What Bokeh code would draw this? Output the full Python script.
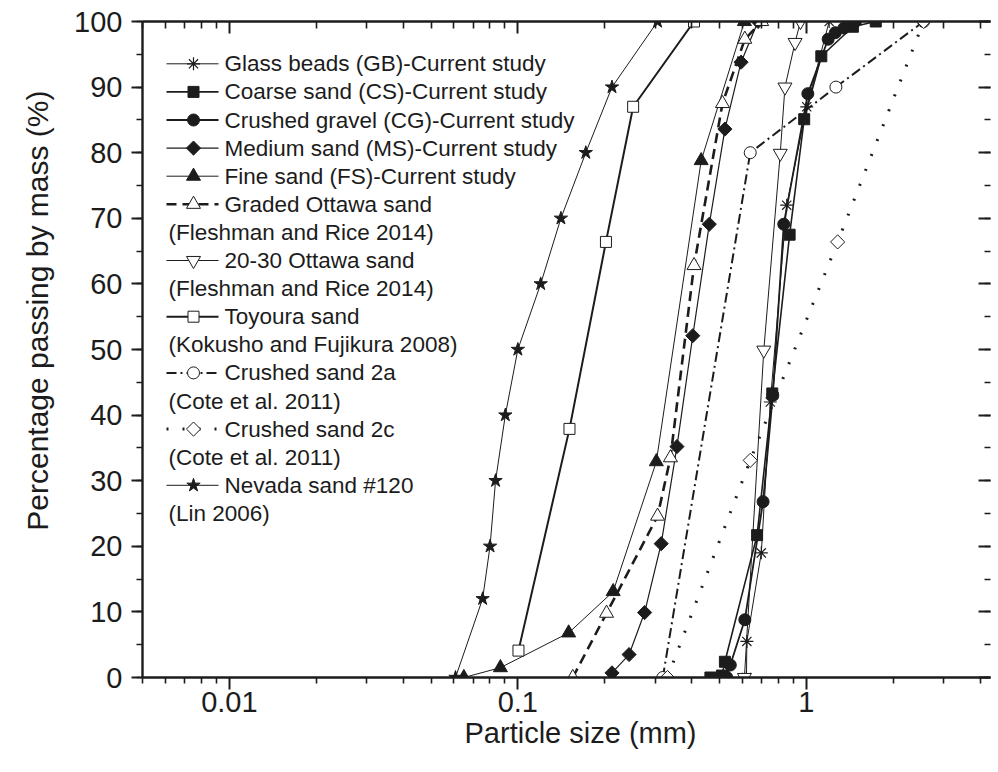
import math
from bokeh.plotting import figure
from bokeh.models import (Range1d, LinearScale, LogAxis, LinearAxis, FixedTicker,
                          SingleIntervalTicker, CustomJSTickFormatter, Title)
from bokeh.core.properties import value
from bokeh.embed import file_html
from bokeh.resources import INLINE

# ---------------- data (particle size in mm, percent passing) ----------------
gb_x = [0.62, 0.622, 0.698, 0.75, 0.855, 1.003, 1.2]
gb_y = [0, 5.5, 19, 42, 72, 87, 100]

cs_x = [0.465, 0.51, 0.522, 0.675, 0.762, 0.875, 0.983, 1.127, 1.45, 1.74]
cs_y = [0, 0.3, 2.4, 21.7, 43.3, 67.5, 85.1, 94.7, 99.2, 100]

cg_x = [0.53, 0.545, 0.612, 0.708, 0.765, 0.835, 1.012, 1.19, 1.26, 1.35, 1.48]
cg_y = [0, 1.9, 8.8, 26.8, 43.0, 69.1, 89.0, 97.3, 98.3, 99.0, 100]

ms_x = [0.212, 0.243, 0.275, 0.314, 0.356, 0.404, 0.461, 0.522, 0.594, 0.68]
ms_y = [0.7, 3.5, 9.9, 20.4, 35.2, 52.1, 69.1, 83.6, 93.8, 100]

fs_x = [0.065, 0.087, 0.15, 0.214, 0.302, 0.432, 0.61]
fs_y = [0, 1.5, 6.8, 13.1, 32.9, 78.8, 100]

go_x = [0.155, 0.203, 0.305, 0.338, 0.408, 0.512, 0.612, 0.70]
go_y = [0, 9.8, 24.6, 33.5, 62.8, 87.5, 97.3, 100]

o2030_x = [0.61, 0.712, 0.812, 0.843, 0.914, 0.954]
o2030_y = [0, 49.9, 79.9, 90.0, 96.8, 100]

toy_x = [0.1005, 0.151, 0.202, 0.251, 0.408]
toy_y = [4.1, 37.9, 66.4, 87.0, 100]

cs2a_x = [0.318, 0.639, 1.266, 2.55]
cs2a_y = [0, 80, 90, 100]

cs2c_x = [0.33, 0.639, 1.284, 2.55]
cs2c_y = [0, 33.1, 66.4, 100]

nev_x = [0.0608, 0.0755, 0.0801, 0.0837, 0.0905, 0.100, 0.120, 0.141, 0.172, 0.212, 0.305]
nev_y = [0, 12, 20, 30, 40, 50, 60, 70, 80, 90, 100]

legend_labels = [
    ["Glass beads (GB)-Current study"],
    ["Coarse sand (CS)-Current study"],
    ["Crushed gravel (CG)-Current study"],
    ["Medium sand (MS)-Current study"],
    ["Fine sand (FS)-Current study"],
    ["Graded Ottawa sand", "(Fleshman and Rice 2014)"],
    ["20-30 Ottawa sand", "(Fleshman and Rice 2014)"],
    ["Toyoura sand", "(Kokusho and Fujikura 2008)"],
    ["Crushed sand 2a", "(Cote et al. 2011)"],
    ["Crushed sand 2c", "(Cote et al. 2011)"],
    ["Nevada sand #120", "(Lin 2006)"],
]

x_major = [0.01, 0.1, 1]
y_major_step = 10
x_title = "Particle size (mm)"
y_title = "Percentage passing by mass (%)"

# ---------------- styling ----------------
FONT = "Liberation Sans"
INK = "#1c1c1c"
WHITE = "#ffffff"

series = [
    dict(x=gb_x, y=gb_y, marker="asterisk", size=13, fill=INK, angle=0.0, lw=1.0, dash="solid", mlw=1.2),
    dict(x=cs_x, y=cs_y, marker="square", size=11, fill=INK, angle=0.0, lw=1.6, dash="solid", mlw=1.0),
    dict(x=cg_x, y=cg_y, marker="circle", size=12, fill=INK, angle=0.0, lw=1.8, dash="solid", mlw=1.0),
    dict(x=ms_x, y=ms_y, marker="square", size=10, fill=INK, angle=math.pi / 4, lw=1.2, dash="solid", mlw=1.0),
    dict(x=fs_x, y=fs_y, marker="triangle", size=14, fill=INK, angle=0.0, lw=1.0, dash="solid", mlw=1.0),
    dict(x=go_x, y=go_y, marker="triangle", size=14, fill=WHITE, angle=0.0, lw=2.6, dash="10 6", mlw=1.0),
    dict(x=o2030_x, y=o2030_y, marker="inverted_triangle", size=14, fill=WHITE, angle=0.0, lw=1.0, dash="solid", mlw=1.0),
    dict(x=toy_x, y=toy_y, marker="square", size=11, fill=WHITE, angle=0.0, lw=2.0, dash="solid", mlw=1.0),
    dict(x=cs2a_x, y=cs2a_y, marker="circle", size=12, fill=WHITE, angle=0.0, lw=2.0, dash="10 4 2 4", mlw=1.0),
    dict(x=cs2c_x, y=cs2c_y, marker="square", size=10, fill=WHITE, angle=math.pi / 4, lw=3.0, dash="2 14", mlw=1.0),
    dict(x=nev_x, y=nev_y, marker="star", size=14, fill=INK, angle=0.0, lw=1.0, dash="solid", mlw=1.0),
]

LEFT, TOP, BOTTOM, RIGHT = 139, 21, 79, 1
FW, FH = 848, 656
DECADE_PX = 288.5
x_start = 0.005
x_end = 10 ** (math.log10(x_start) + FW / DECADE_PX)

p = figure(x_axis_type="log", x_range=Range1d(x_start, x_end), y_range=Range1d(0, 100),
           frame_width=FW, frame_height=FH,
           min_border_left=LEFT, min_border_top=TOP, min_border_right=RIGHT, min_border_bottom=BOTTOM,
           output_backend="svg", toolbar_location=None)
p.outline_line_color = None
p.xgrid.visible = False
p.ygrid.visible = False
p.background_fill_color = WHITE
p.border_fill_color = WHITE

x_minor = []
for e in range(-3, 1):
    for k in range(2, 10):
        x_minor.append(k * 10 ** e)


def style_axis(ax, tick_in, tick_out, labels=True):
    ax.axis_line_color = INK
    ax.axis_line_width = 2.4
    ax.major_tick_line_color = INK
    ax.minor_tick_line_color = INK
    ax.major_tick_line_width = 2
    ax.minor_tick_line_width = 1.6
    ax.major_tick_in = tick_in[0]
    ax.minor_tick_in = tick_in[1]
    ax.major_tick_out = tick_out[0]
    ax.minor_tick_out = tick_out[1]
    ax.major_label_text_font = FONT
    ax.major_label_text_color = INK
    if labels:
        ax.major_label_text_font_size = "29px"
    else:
        ax.major_label_text_font_size = "0px"
        ax.major_label_standoff = 0


xa = p.xaxis[0]
xa.ticker = FixedTicker(ticks=x_major, minor_ticks=x_minor)
xa.formatter = CustomJSTickFormatter(code="return tick.toString()")
style_axis(xa, (0, 0), (12, 6))
xa.major_label_standoff = 2

ya = p.yaxis[0]
ya.ticker = SingleIntervalTicker(interval=y_major_step, num_minor_ticks=2)
style_axis(ya, (0, 0), (11, 6))
ya.major_label_standoff = 9

top = LogAxis(ticker=FixedTicker(ticks=x_major, minor_ticks=x_minor),
              formatter=CustomJSTickFormatter(code="return ''"))
style_axis(top, (12, 7), (0, 0), labels=False)
p.add_layout(top, "above")

right = LinearAxis(ticker=SingleIntervalTicker(interval=y_major_step, num_minor_ticks=2),
                   formatter=CustomJSTickFormatter(code="return ''"))
style_axis(right, (12, 6), (0, 0), labels=False)
right.axis_line_color = None
p.add_layout(right, "right")

# axis titles
p.add_layout(Title(text=x_title, align="left", offset=322, standoff=0,
                   text_font=FONT, text_font_size="29px", text_font_style="normal",
                   text_color=INK), "below")
p.add_layout(Title(text=y_title, align="right", offset=69, standoff=36,
                   text_font=FONT, text_font_size="30px", text_font_style="normal",
                   text_color=INK), "left")

# ---------------- curves ----------------
for s in series:
    p.line(s["x"], s["y"], line_color=INK, line_width=s["lw"], line_dash=s["dash"])
for s in series:
    p.scatter(s["x"], s["y"], marker=s["marker"], size=s["size"], angle=s["angle"],
              fill_color=s["fill"], line_color=INK, line_width=s["mlw"])

# ---------------- legend (frame pixel coordinates) ----------------
p.extra_x_ranges = {"px": Range1d(0, FW)}
p.extra_x_scales = {"px": LinearScale()}
p.extra_y_ranges = {"py": Range1d(FH, 0)}
p.extra_y_scales = {"py": LinearScale()}

LX0, LX1, LMX = 24, 76, 51
LTX, LTX2 = 82, 26
ROW0, DROW = 42.3, 28.1

row = 0
tx, ty, tt = [], [], []
for s, labels in zip(series, legend_labels):
    yy = ROW0 + row * DROW
    p.line([LX0, LX1], [yy, yy], line_color=INK, line_width=s["lw"], line_dash=s["dash"],
           x_range_name="px", y_range_name="py")
    p.scatter([LMX], [yy], marker=s["marker"], size=s["size"], angle=s["angle"],
              fill_color=s["fill"], line_color=INK, line_width=s["mlw"],
              x_range_name="px", y_range_name="py")
    tx.append(LTX); ty.append(yy); tt.append(labels[0])
    row += 1
    for extra in labels[1:]:
        yy = ROW0 + row * DROW
        tx.append(LTX2); ty.append(yy); tt.append(extra)
        row += 1

p.text(tx, ty, text=tt, text_font=value(FONT), text_font_size=value("22.5px"),
       text_color=INK, text_baseline="middle", text_align="left",
       x_range_name="px", y_range_name="py")

open("out.html", "w").write(file_html(p, INLINE))
